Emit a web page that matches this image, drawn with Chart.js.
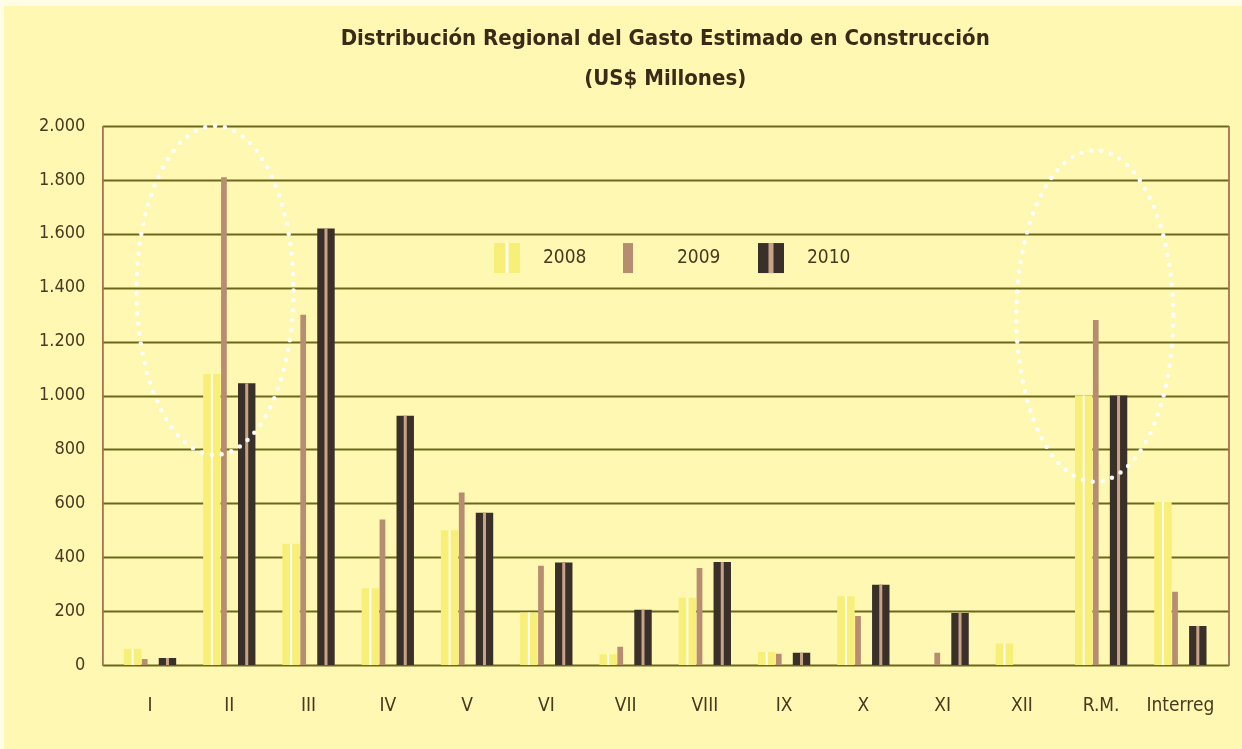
<!DOCTYPE html>
<html>
<head>
<meta charset="utf-8">
<script src="https://cdn.jsdelivr.net/npm/chart.js@4"></script>
<style>
  html, body { margin: 0; padding: 0; background: #fff8b2; }
  #wrap { width: 1242px; height: 749px; position: relative; }
</style>
</head>
<body>
<div id="wrap"><canvas id="c" width="1242" height="749"></canvas></div>
<script>
const categories = ['I', 'II', 'III', 'IV', 'V', 'VI', 'VII', 'VIII', 'IX', 'X', 'XI', 'XII', 'R.M.', 'Interreg'];
const seriesLabels = ['2008', '2009', '2010'];
const values2008 = [60, 1080, 450, 285, 500, 195, 40, 250, 48, 255, 0, 80, 1000, 605];
const values2009 = [22, 1810, 1300, 540, 640, 368, 68, 360, 42, 182, 45, 0, 1280, 272];
const values2010 = [26, 1045, 1620, 925, 565, 380, 205, 382, 45, 298, 193, 0, 1000, 145];
const yTicks = [0, 200, 400, 600, 800, 1000, 1200, 1400, 1600, 1800, 2000];
const titleLines = ['Distribución Regional del Gasto Estimado en Construcción', '(US$ Millones)'];
// highlighted groups (category, y range) for the dotted ellipses
const highlightCats = ['II', 'R.M.'];
const highlightRanges = [[780, 2000], [680, 1910]];

const COND = '"Liberation Sans Narrow", "DejaVu Sans Condensed", "Liberation Sans", sans-serif';
const TEXT = '#4a3820';
const GRID = '#6b681e';
const FRAME = '#a27452';
const colors = ['#f8ef78', '#b78d71', '#3a302a'];
const stripeColors = ['#fffef0', null, '#caa286'];

const bgPlugin = {
  id: 'bg',
  beforeDraw(chart) {
    const ctx = chart.ctx;
    ctx.save();
    ctx.fillStyle = '#fff8b2';
    ctx.fillRect(0, 0, chart.width, chart.height);
    ctx.fillStyle = '#fffde6';
    ctx.fillRect(0, 0, chart.width, 6);
    ctx.fillRect(0, 0, 4, chart.height);
    ctx.restore();
  }
};

const titlePlugin = {
  id: 'customTitle',
  afterDraw(chart) {
    const ctx = chart.ctx;
    ctx.save();
    ctx.fillStyle = '#3a2a18';
    ctx.font = 'bold 22px ' + COND;
    ctx.textAlign = 'center';
    ctx.textBaseline = 'middle';
    const cx = (chart.chartArea.left + chart.chartArea.right) / 2;
    titleLines.forEach((t, i) => ctx.fillText(t, cx, 39 + i * 40));
    ctx.restore();
  }
};

const EXT_L = 7.5, EXT_R = 9;
const gridPlugin = {
  id: 'customGrid',
  beforeDatasetsDraw(chart) {
    const {ctx, chartArea} = chart;
    const y = chart.scales.y;
    const l = chartArea.left - EXT_L, r = chartArea.right + EXT_R;
    ctx.save();
    ctx.lineWidth = 1.8;
    ctx.strokeStyle = GRID;
    yTicks.forEach(v => {
      const py = Math.round(y.getPixelForValue(v)) + 0.5;
      ctx.beginPath(); ctx.moveTo(l, py); ctx.lineTo(r, py); ctx.stroke();
    });
    ctx.strokeStyle = FRAME;
    const t = y.getPixelForValue(2000), b = y.getPixelForValue(0);
    ctx.beginPath(); ctx.moveTo(l, t); ctx.lineTo(l, b + 1); ctx.stroke();
    ctx.beginPath(); ctx.moveTo(r, t); ctx.lineTo(r, b + 1); ctx.stroke();
    ctx.restore();
  }
};

// shift the narrow 2009 bar to the left of its slot
const shiftPlugin = {
  id: 'shift',
  afterDatasetsUpdate(chart) {
    const meta = chart.getDatasetMeta(1);
    const meta0 = chart.getDatasetMeta(0);
    meta.data.forEach((el, i) => {
      const ref = meta0.data[i];
      el.x = ref.x + ref.width / 2 + el.width / 2 + 0.5;
    });
  }
};

const stripePlugin = {
  id: 'stripes',
  afterDatasetsDraw(chart) {
    const ctx = chart.ctx;
    ctx.save();
    [0, 2].forEach(di => {
      const meta = chart.getDatasetMeta(di);
      const w = di === 0 ? 2 : 3;
      ctx.fillStyle = stripeColors[di];
      meta.data.forEach(el => {
        const h = el.base - el.y;
        if (h <= 0) return;
        ctx.fillRect(el.x - w / 2, el.y, w, h);
      });
    });
    ctx.restore();
  }
};

const ellipsePlugin = {
  id: 'ellipses',
  afterDatasetsDraw(chart) {
    const {ctx} = chart;
    const xs = chart.scales.x, ys = chart.scales.y;
    const catW = xs.getPixelForValue(1) - xs.getPixelForValue(0);
    const offs = [-0.18, -0.08];
    ctx.save();
    ctx.strokeStyle = 'rgba(255,255,255,0.97)';
    ctx.lineWidth = 4.5;
    ctx.lineCap = 'round';
    ctx.setLineDash([0, 10]);
    highlightCats.forEach((cat, k) => {
      const cx = xs.getPixelForValue(categories.indexOf(cat)) + offs[k] * catW;
      const top = ys.getPixelForValue(highlightRanges[k][1]);
      const bot = ys.getPixelForValue(highlightRanges[k][0]);
      ctx.beginPath();
      ctx.ellipse(cx, (top + bot) / 2, 0.99 * catW, (bot - top) / 2, 0, 0, Math.PI * 2);
      ctx.stroke();
    });
    ctx.restore();
  }
};

const legendPlugin = {
  id: 'customLegend',
  afterDraw(chart) {
    const {ctx} = chart;
    const cy = chart.scales.y.getPixelForValue(1510);
    const items = [
      {x: 494, w: 26, stripe: 3},
      {x: 623, w: 10, stripe: 0},
      {x: 758, w: 26, stripe: 5}
    ];
    ctx.save();
    ctx.font = '19px ' + COND;
    ctx.textBaseline = 'middle';
    ctx.textAlign = 'left';
    items.forEach((it, i) => {
      const ds = chart.data.datasets[i];
      ctx.fillStyle = ds.backgroundColor;
      ctx.fillRect(it.x, cy - 15, it.w, 30);
      if (it.stripe) {
        ctx.fillStyle = stripeColors[i];
        ctx.fillRect(it.x + it.w / 2 - it.stripe / 2, cy - 15, it.stripe, 30);
      }
      ctx.fillStyle = TEXT;
      ctx.fillText(ds.label, it.x + (i === 1 ? 54 : 49), cy);
    });
    ctx.restore();
  }
};

const fmt = v => String(v).replace(/\B(?=(\d{3})+(?!\d))/g, '.');

new Chart(document.getElementById('c'), {
  type: 'bar',
  data: {
    labels: categories,
    datasets: [
      {label: seriesLabels[0], data: values2008, backgroundColor: colors[0], barPercentage: 1.0, categoryPercentage: 0.66},
      {label: seriesLabels[1], data: values2009, backgroundColor: colors[1], barPercentage: 0.33, categoryPercentage: 0.66},
      {label: seriesLabels[2], data: values2010, backgroundColor: colors[2], barPercentage: 1.0, categoryPercentage: 0.66}
    ]
  },
  options: {
    responsive: false,
    animation: false,
    layout: {padding: {left: 0, right: 22, top: 126, bottom: 0}},
    plugins: {
      legend: {display: false},
      tooltip: {enabled: false},
      title: {display: false}
    },
    scales: {
      x: {
        grid: {display: false},
        border: {display: false},
        ticks: {color: TEXT, font: {family: COND, size: 19}, padding: 22, maxRotation: 0, autoSkip: false},
        afterFit(s) { s.height = 84; }
      },
      y: {
        min: 0, max: 2000,
        grid: {display: false},
        border: {display: false},
        ticks: {stepSize: 200, color: TEXT, font: {family: COND, size: 18}, padding: 17, callback: v => fmt(v)},
        afterFit(s) { s.width = 110.4; }
      }
    }
  },
  plugins: [bgPlugin, gridPlugin, shiftPlugin, stripePlugin, ellipsePlugin, legendPlugin, titlePlugin]
});
</script>
</body>
</html>
